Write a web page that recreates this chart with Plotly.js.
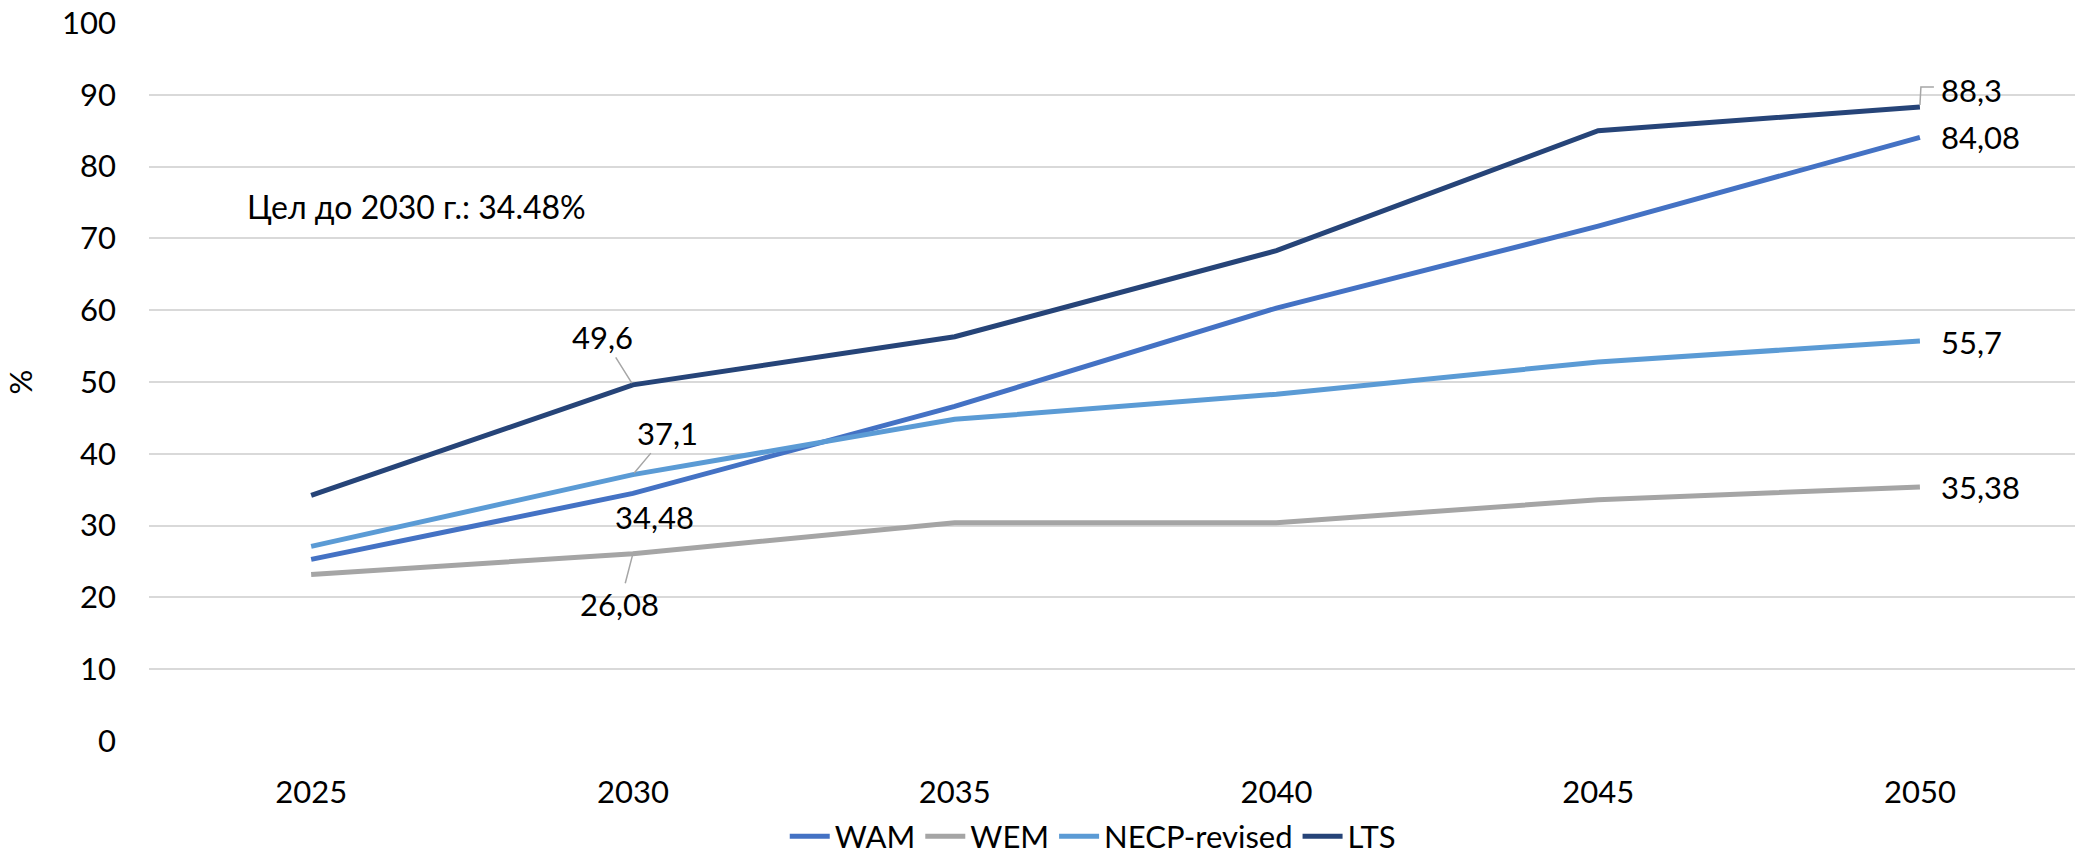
<!DOCTYPE html>
<html>
<head>
<meta charset="utf-8">
<script src="https://cdn.plot.ly/plotly-3.0.1.min.js"></script>
<style>html,body{margin:0;padding:0;background:#fff;}#chart{width:2075px;height:859px;}</style>
</head>
<body>
<div id="chart"></div>
<script>
const years = [2025, 2030, 2035, 2040, 2045, 2050];
const seriesNames = ["WAM", "WEM", "NECP-revised", "LTS"];
const wam  = [25.3, 34.48, 46.6, 60.3, 71.7, 84.08];
const wem  = [23.2, 26.08, 30.4, 30.4, 33.6, 35.38];
const necp = [27.1, 37.1, 44.8, 48.3, 52.8, 55.7];
const lts  = [34.2, 49.6, 56.3, 68.3, 85.0, 88.3];
const yTicks = [0, 10, 20, 30, 40, 50, 60, 70, 80, 90, 100];
const targetText = "Цел до 2030 г.: 34.48%";
const yTitle = "%";

const colors = ["#4472C4", "#A5A5A5", "#5B9BD5", "#264478"];
const FONT = "Lato, Carlito, Calibri, sans-serif";
const values = [wam, wem, necp, lts];

const traces = values.map((v, i) => ({
  x: years, y: v, name: seriesNames[i], type: "scatter", mode: "lines",
  line: {color: colors[i], width: 5}, hoverinfo: "skip"
}));

const fmt = v => String(v).replace(".", ",");
const lab = (x, y, opts) => Object.assign({
  x: x, y: y, xref: "x", yref: "y", text: fmt(y), showarrow: false,
  font: {family: FONT, size: 31, color: "#000"}
}, opts);
const leader = {showarrow: true, arrowhead: 0, arrowwidth: 1.5, arrowcolor: "#A6A6A6", standoff: 2};

const last = years.length - 1;
const annotations = [
  // 2030 labels
  lab(years[1], lts[1], Object.assign({ax: -30, ay: -48}, leader)),
  lab(years[1], necp[1], Object.assign({ax: 35, ay: -42}, leader)),
  lab(years[1], wam[1], {xshift: 22, yshift: -24}),
  lab(years[1], wem[1], Object.assign({ax: -13, ay: 50}, leader)),
  // 2050 labels
  lab(years[last], lts[last], {xanchor: "left", xshift: 19, yshift: 17}),
  lab(years[last], wam[last], {xanchor: "left", xshift: 19, yshift: 0}),
  lab(years[last], necp[last], {xanchor: "left", xshift: 19, yshift: -1}),
  lab(years[last], wem[last], {xanchor: "left", xshift: 19, yshift: 0}),
  // target note
  {x: 2023.97, y: 74.4, xref: "x", yref: "y", text: targetText, showarrow: false,
   xanchor: "left", yanchor: "middle", font: {family: FONT, size: 32, color: "#000"}}
];

const shapes = [{
  type: "path", xref: "x", yref: "y", xsizemode: "pixel", ysizemode: "pixel",
  xanchor: years[last], yanchor: lts[last],
  path: "M0,2 L1,20 L14,20",
  line: {color: "#A6A6A6", width: 1.5}
}];

const layout = {
  width: 2075, height: 859,
  margin: {l: 149, r: 0, t: 23, b: 118, autoexpand: false},
  paper_bgcolor: "#fff", plot_bgcolor: "#fff",
  font: {family: FONT, size: 31, color: "#000"},
  showlegend: true,
  legend: {orientation: "h", x: 0.49, xanchor: "center", y: -0.133, yanchor: "middle",
           font: {family: FONT, size: 31, color: "#000"}, itemwidth: 40, tracegroupgap: 0},
  xaxis: {
    range: [2022.48, 2052.41], tickmode: "array", tickvals: years, ticktext: years.map(String),
    showgrid: false, zeroline: false, showline: false, ticks: "", ticklabelstandoff: 30,
    tickfont: {family: FONT, size: 31, color: "#000"}, fixedrange: true, automargin: false
  },
  yaxis: {
    range: [0, 100], tickmode: "array", tickvals: yTicks, ticktext: yTicks.map(String),
    showgrid: true, gridcolor: "#D9D9D9", gridwidth: 2, zeroline: false, showline: false,
    ticks: "", ticklabelstandoff: 32,
    tickfont: {family: FONT, size: 31, color: "#000"},
    title: {text: yTitle, font: {family: FONT, size: 31, color: "#000"}, standoff: 20},
    fixedrange: true, automargin: false
  },
  annotations: annotations,
  shapes: shapes
};

Plotly.newPlot("chart", traces, layout, {displayModeBar: false, staticPlot: true});
</script>
</body>
</html>
